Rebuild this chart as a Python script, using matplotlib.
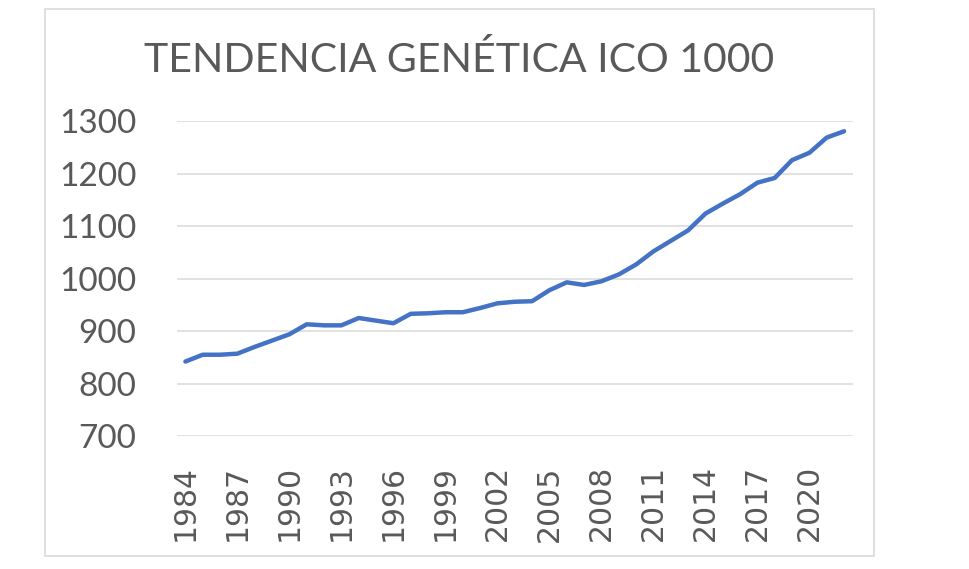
import matplotlib
matplotlib.use("Agg")
import matplotlib.pyplot as plt
from matplotlib.patches import Rectangle

years = list(range(1984, 2023))
valores = [842, 855, 855, 857, 870, 882, 894, 913, 911, 911,
           925, 920, 915, 933, 934, 936, 936, 944, 953, 956,
           957, 978, 993, 988, 995, 1008, 1027, 1052, 1072, 1092,
           1124, 1143, 1161, 1183, 1192, 1226, 1240, 1269, 1281]
titulo = "TENDENCIA GENÉTICA ICO 1000"

gris = "#595959"

fig = plt.figure(figsize=(9.69, 5.69), dpi=100)
fig.patch.set_facecolor("white")

# marco del grafico
fig.patches.append(Rectangle((0.0461, 0.0234), 0.856, 0.960, transform=fig.transFigure,
                             fill=False, edgecolor="#D9D9D9", lw=1.2))

ax = fig.add_axes([0.1824, 0.2337, 0.6976, 0.5531])
x = list(range(len(years)))
ax.plot(x, valores, color="#4472C4", lw=3.2, solid_capstyle="round")

ax.set_xlim(-0.5, len(years) - 0.5)
ax.set_ylim(700, 1300)
ax.set_yticks(range(700, 1301, 100))
ax.set_yticklabels([str(v) for v in range(700, 1301, 100)],
                   fontfamily="Lato", fontsize=24, color=gris)
ax.set_xticks(x[::3])
ax.set_xticklabels([str(y) for y in years[::3]], rotation=90,
                   fontfamily="DejaVu Sans", fontsize=21.5, color=gris)
ax.tick_params(axis="y", length=0, pad=29)
ax.tick_params(axis="x", length=0, pad=21)
ax.grid(axis="y", color="#D9D9D9", lw=1.1)
ax.set_axisbelow(True)
for s in ax.spines.values():
    s.set_visible(False)

fig.text(0.4737, 0.8735, titulo, ha="center", va="baseline",
         fontfamily="Lato", fontsize=29.5, color=gris)

fig.savefig("out.png", dpi=100)
